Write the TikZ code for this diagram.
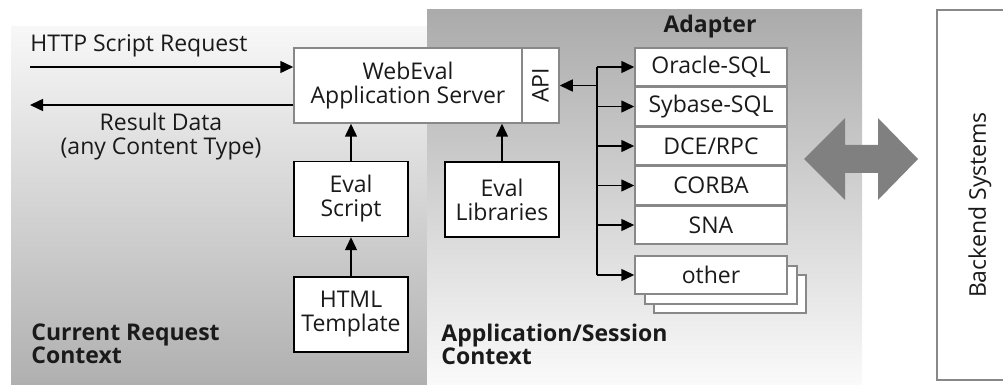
\documentclass[tikz,border=0pt]{standalone}
\usepackage{fontspec}
\setmainfont{Open Sans}
\usetikzlibrary{positioning, arrows.meta}
\definecolor{frame1}{HTML}{888888}
\definecolor{ink1}{HTML}{1A1A1A}
\tikzset{
  rect1/.style = {
    shape = rectangle,
    draw = black,
    line width = 0.75pt,
    fill = white,
    text = ink1,
    align = center,
    inner sep = 0pt,
    minimum width = 57pt,
    minimum height = 37.5pt,
  }
}
\tikzset{
  rect2/.style = {
    rect1,
    draw = frame1,
    minimum width = 76pt,
    minimum height = 19pt,
  }
}
\tikzset{
  arrow1/.style = {
    draw = black, line width = 0.75pt, -{Triangle[length = 6.5pt, width = 6pt]},
  }
}
\tikzset{
  label1/.style = {
    font = \fontsize{11.5}{11.5}\selectfont\bfseries,
    text = ink1,
    align = left,
    anchor = west,
    inner sep = 0pt,
  }
}

\begin{document}
\begin{tikzpicture}[x = 0.5pt, y = -0.5pt, font = \fontsize{11.5}{12}\selectfont]
        \useasboundingbox (0,0) rectangle (1003,385);
        \shade[top color = black!3, bottom color = black!31] (11,27) rectangle (427,384);
        \shade[top color = black!33, bottom color = black!2] (427,10) rectangle (862,384);

        \node[rect1, draw = frame1, minimum width = 114pt](web) at (408,85.5){WebEval\\Application Server};
        \node[rect1, draw = frame1, minimum width = 37.5pt, minimum height = 18.5pt, rotate = 90](api) at (540.5,85.5){API};
        \node[rect1](script) at (351,199){Eval\\Script};
        \node[rect1, below = 19.5pt of script](html){HTML\\Template};
        \node[rect1](lib) at (502,199.5){Eval\\Libraries};

        \node[label1, anchor = center](adapter) at (710,27){Adapter};
        \node[rect2](a1) at (711,67){Oracle-SQL};
        \node[rect2, below = 0pt of a1](a2){Sybase-SQL};
        \node[rect2, below = 0pt of a2](a3){DCE/RPC};
        \node[rect2, below = 0pt of a3](a4){CORBA};
        \node[rect2, below = 0pt of a4](a5){SNA};
        \node[rect2](other3) at (730,294){};
        \node[rect2](other2) at (721,285){};
        \node[rect2](other) at (711,275){other};

        \node[draw = frame1, line width = 0.75pt, text = ink1, minimum width = 185pt, minimum height = 43pt, rotate = 90](backend) at (980,195){Backend Systems\hspace*{10pt}};
        \fill[black!50] (804,159) -- (845,118) -- (845,145) -- (878,145) -- (878,118) -- (918,159) -- (878,200) -- (878,173) -- (845,173) -- (845,200) -- cycle;

        \coordinate(req) at (30,67);
        \coordinate(res) at (30,105);
        \coordinate(bus) at (597,67);
        \node[anchor = west, inner sep = 0pt, text = ink1](reqtext) at (30,46){HTTP Script Request};
        \node[align = center, inner sep = 0pt, text = ink1](restext) at (161,137){Result Data\\(any Content Type)};
        \node[label1](crc) at (31,344){Current Request\\Context};
        \node[label1](asc) at (441,344){Application/Session\\Context};

        \draw[arrow1](req) -- (req -| web.west);
        \draw[arrow1](res -| web.west) -- (res);
        \draw[arrow1](script.north) -- (script.north |- web.south);
        \draw[arrow1](html) -- (script);
        \draw[arrow1](lib.north) -- (lib.north |- web.south);
        \draw[arrow1](api.south -| bus) -- (api.south);
        \draw[line width = 0.75pt](a1.west -| bus) -- (other.west -| bus);
        \draw[arrow1](a1.west -| bus) -- (a1.west);
        \draw[arrow1](a2.west -| bus) -- (a2.west);
        \draw[arrow1](a3.west -| bus) -- (a3.west);
        \draw[arrow1](a4.west -| bus) -- (a4.west);
        \draw[arrow1](a5.west -| bus) -- (a5.west);
        \draw[arrow1](other.west -| bus) -- (other.west);
    \end{tikzpicture}
\end{document}
